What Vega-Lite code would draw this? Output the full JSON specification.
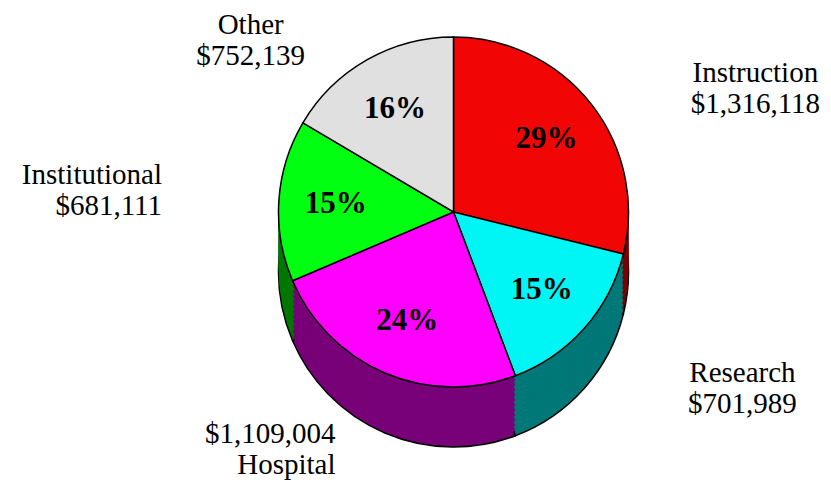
{
  "$schema": "https://vega.github.io/schema/vega-lite/v6.json",
  "width": 755,
  "height": 424,
  "autosize": {"type": "none"},
  "padding": {"left": 76, "right": 0, "top": 0, "bottom": 69},
  "background": "white",
  "view": {"stroke": null},
  "data": {
    "values": [
      {"category": "Instruction", "idx": 1, "amount": 1316118, "pct": "29%", "label": "Instruction\n$1,316,118"},
      {"category": "Research", "idx": 2, "amount": 701989, "pct": "15%", "label": "Research\n$701,989"},
      {"category": "Hospital", "idx": 3, "amount": 1109004, "pct": "24%", "label": "$1,109,004\nHospital"},
      {"category": "Institutional", "idx": 4, "amount": 681111, "pct": "15%", "label": "Institutional\n$681,111"},
      {"category": "Other", "idx": 5, "amount": 752139, "pct": "16%", "label": "Other\n$752,139"}
    ]
  },
  "encoding": {
    "theta": {"field": "amount", "type": "quantitative", "stack": true},
    "order": {"field": "idx", "type": "quantitative"}
  },
  "layer": [
    {"mark": {"type": "arc", "outerRadius": 175, "yOffset": 60, "stroke": "black", "strokeWidth": 1.5},
     "encoding": {"color": {"field": "category", "type": "nominal", "legend": null, "scale": {"domain": ["Instruction", "Research", "Hospital", "Institutional", "Other"], "range": ["#780000", "#007878", "#780078", "#007800", "#707070"]}}}},
    {"mark": {"type": "arc", "outerRadius": 175, "yOffset": 55},
     "encoding": {"color": {"field": "category", "type": "nominal", "legend": null, "scale": {"domain": ["Instruction", "Research", "Hospital", "Institutional", "Other"], "range": ["#780000", "#007878", "#780078", "#007800", "#707070"]}}}},
    {"mark": {"type": "arc", "outerRadius": 175, "yOffset": 50},
     "encoding": {"color": {"field": "category", "type": "nominal", "legend": null, "scale": {"domain": ["Instruction", "Research", "Hospital", "Institutional", "Other"], "range": ["#780000", "#007878", "#780078", "#007800", "#707070"]}}}},
    {"mark": {"type": "arc", "outerRadius": 175, "yOffset": 45},
     "encoding": {"color": {"field": "category", "type": "nominal", "legend": null, "scale": {"domain": ["Instruction", "Research", "Hospital", "Institutional", "Other"], "range": ["#780000", "#007878", "#780078", "#007800", "#707070"]}}}},
    {"mark": {"type": "arc", "outerRadius": 175, "yOffset": 40},
     "encoding": {"color": {"field": "category", "type": "nominal", "legend": null, "scale": {"domain": ["Instruction", "Research", "Hospital", "Institutional", "Other"], "range": ["#780000", "#007878", "#780078", "#007800", "#707070"]}}}},
    {"mark": {"type": "arc", "outerRadius": 175, "yOffset": 35},
     "encoding": {"color": {"field": "category", "type": "nominal", "legend": null, "scale": {"domain": ["Instruction", "Research", "Hospital", "Institutional", "Other"], "range": ["#780000", "#007878", "#780078", "#007800", "#707070"]}}}},
    {"mark": {"type": "arc", "outerRadius": 175, "yOffset": 30},
     "encoding": {"color": {"field": "category", "type": "nominal", "legend": null, "scale": {"domain": ["Instruction", "Research", "Hospital", "Institutional", "Other"], "range": ["#780000", "#007878", "#780078", "#007800", "#707070"]}}}},
    {"mark": {"type": "arc", "outerRadius": 175, "yOffset": 25},
     "encoding": {"color": {"field": "category", "type": "nominal", "legend": null, "scale": {"domain": ["Instruction", "Research", "Hospital", "Institutional", "Other"], "range": ["#780000", "#007878", "#780078", "#007800", "#707070"]}}}},
    {"mark": {"type": "arc", "outerRadius": 175, "yOffset": 20},
     "encoding": {"color": {"field": "category", "type": "nominal", "legend": null, "scale": {"domain": ["Instruction", "Research", "Hospital", "Institutional", "Other"], "range": ["#780000", "#007878", "#780078", "#007800", "#707070"]}}}},
    {"mark": {"type": "arc", "outerRadius": 175, "yOffset": 15},
     "encoding": {"color": {"field": "category", "type": "nominal", "legend": null, "scale": {"domain": ["Instruction", "Research", "Hospital", "Institutional", "Other"], "range": ["#780000", "#007878", "#780078", "#007800", "#707070"]}}}},
    {"mark": {"type": "arc", "outerRadius": 175, "yOffset": 10},
     "encoding": {"color": {"field": "category", "type": "nominal", "legend": null, "scale": {"domain": ["Instruction", "Research", "Hospital", "Institutional", "Other"], "range": ["#780000", "#007878", "#780078", "#007800", "#707070"]}}}},
    {"mark": {"type": "arc", "outerRadius": 175, "yOffset": 5},
     "encoding": {"color": {"field": "category", "type": "nominal", "legend": null, "scale": {"domain": ["Instruction", "Research", "Hospital", "Institutional", "Other"], "range": ["#780000", "#007878", "#780078", "#007800", "#707070"]}}}},
    {"mark": {"type": "arc", "outerRadius": 175, "stroke": "black", "strokeWidth": 1.5},
     "encoding": {"fill": {"field": "category", "type": "nominal", "legend": null, "scale": {"domain": ["Instruction", "Research", "Hospital", "Institutional", "Other"], "range": ["#f20505", "#00f5f5", "#ff00ff", "#00ff10", "#e0e0e0"]}}}},
    {"mark": {"type": "text", "radius": 118, "font": "Liberation Serif", "fontSize": 31, "fontWeight": "bold", "color": "black", "baseline": "middle"},
     "encoding": {"text": {"field": "pct", "type": "nominal"}}},
    {"mark": {"type": "text", "radius": 250, "dx": 105, "dy": 15, "font": "Liberation Serif", "fontSize": 29, "color": "black", "align": "center", "baseline": "middle", "lineBreak": "\n", "lineHeight": 31},
     "encoding": {"text": {"condition": {"test": "datum.category === 'Instruction'", "field": "label"}, "value": ""}}},
    {"mark": {"type": "text", "radius": 250, "dx": 102, "dy": -5, "font": "Liberation Serif", "fontSize": 29, "color": "black", "align": "center", "baseline": "middle", "lineBreak": "\n", "lineHeight": 31},
     "encoding": {"text": {"condition": {"test": "datum.category === 'Research'", "field": "label"}, "value": ""}}},
    {"mark": {"type": "text", "radius": 250, "dx": -20, "dy": -8, "font": "Liberation Serif", "fontSize": 29, "color": "black", "align": "right", "baseline": "middle", "lineBreak": "\n", "lineHeight": 31},
     "encoding": {"text": {"condition": {"test": "datum.category === 'Hospital'", "field": "label"}, "value": ""}}},
    {"mark": {"type": "text", "radius": 250, "dx": -42, "dy": -21, "font": "Liberation Serif", "fontSize": 29, "color": "black", "align": "right", "baseline": "middle", "lineBreak": "\n", "lineHeight": 31},
     "encoding": {"text": {"condition": {"test": "datum.category === 'Institutional'", "field": "label"}, "value": ""}}},
    {"mark": {"type": "text", "radius": 250, "dx": -79, "dy": 30, "font": "Liberation Serif", "fontSize": 29, "color": "black", "align": "center", "baseline": "middle", "lineBreak": "\n", "lineHeight": 31},
     "encoding": {"text": {"condition": {"test": "datum.category === 'Other'", "field": "label"}, "value": ""}}}
  ],
  "resolve": {"scale": {"color": "independent", "fill": "independent"}}
}
